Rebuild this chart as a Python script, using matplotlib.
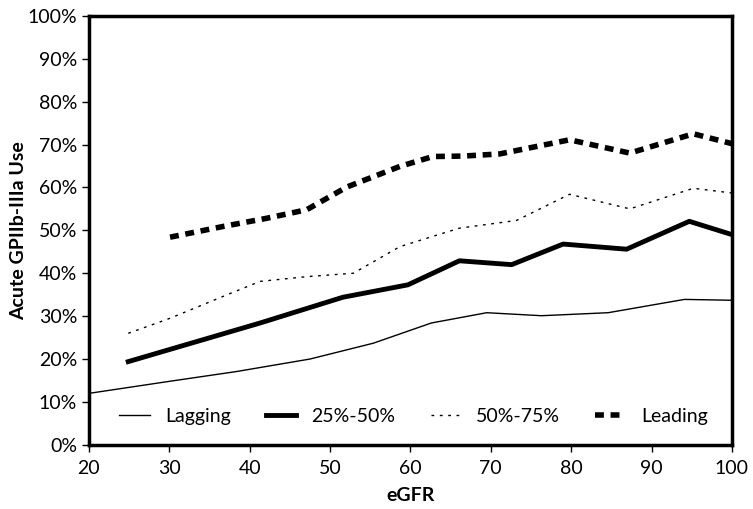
import matplotlib
matplotlib.use("Agg")
import matplotlib.pyplot as plt
from matplotlib.ticker import PercentFormatter

plt.rcParams['font.family'] = ['Lato', 'DejaVu Sans']

lag_x = [20, 30, 38.4, 47.5, 55.4, 62.6, 69.5, 76.3, 84.6, 94.1, 100]
lag_y = [12.0, 14.8, 17.1, 20.0, 23.7, 28.4, 30.8, 30.1, 30.8, 33.9, 33.7]

q2_x = [24.9, 41.3, 51.6, 59.7, 66.1, 72.6, 79.0, 86.9, 94.7, 100]
q2_y = [19.4, 28.4, 34.4, 37.3, 42.9, 42.0, 46.8, 45.6, 52.1, 49.0]

q3_x = [24.9, 30.1, 36.7, 41.3, 47.1, 52.9, 58.7, 62.8, 66.1, 73.2, 79.8, 87.3, 95.2, 100]
q3_y = [26.0, 29.5, 34.6, 38.1, 39.2, 40.0, 46.2, 48.6, 50.5, 52.3, 58.4, 55.0, 59.8, 58.7]

lead_x = [30.1, 36.7, 42.1, 47.1, 52.1, 58.7, 62.8, 66.5, 71.1, 79.8, 87.3, 95.2, 100]
lead_y = [48.4, 50.9, 52.8, 54.8, 60.1, 64.9, 67.2, 67.3, 67.8, 71.1, 68.0, 72.5, 70.2]

labels = ["Lagging", "25%-50%", "50%-75%", "Leading"]
x_ticks = [20, 30, 40, 50, 60, 70, 80, 90, 100]
y_ticks = [0, 10, 20, 30, 40, 50, 60, 70, 80, 90, 100]

fig = plt.figure(figsize=(7.53, 5.09), dpi=100)
ax = fig.add_axes([0.118, 0.126, 0.854, 0.843])

ax.plot(lag_x, lag_y, color='black', lw=1.0, label=labels[0])
ax.plot(q2_x, q2_y, color='black', lw=3.5, label=labels[1])
ax.plot(q3_x, q3_y, color='black', lw=1.0, ls=(0, (2, 4)), label=labels[2])
ax.plot(lead_x, lead_y, color='black', lw=4, ls=(0, (1.6, 1.2)), label=labels[3])

ax.set_xlim(20, 100)
ax.set_ylim(0, 100)
ax.set_xticks(x_ticks)
ax.set_yticks(y_ticks)
ax.yaxis.set_major_formatter(PercentFormatter(decimals=0))
for s in ax.spines.values():
    s.set_linewidth(2.5)
ax.tick_params(direction='out', length=5, width=1.0, labelsize=14, colors='black')
ax.tick_params(axis='x', pad=6)
ax.set_xlabel("eGFR", fontsize=14, fontweight='bold', labelpad=7)
ax.set_ylabel("Acute GPIIb-IIIa Use", fontsize=14, fontweight='bold', labelpad=0)

leg = ax.legend(loc='center', ncol=4, frameon=False, fontsize=14,
                handlelength=1.55, handletextpad=0.8, columnspacing=1.8,
                bbox_to_anchor=(0.505, 0.067))

fig.savefig("out.png", dpi=100)
